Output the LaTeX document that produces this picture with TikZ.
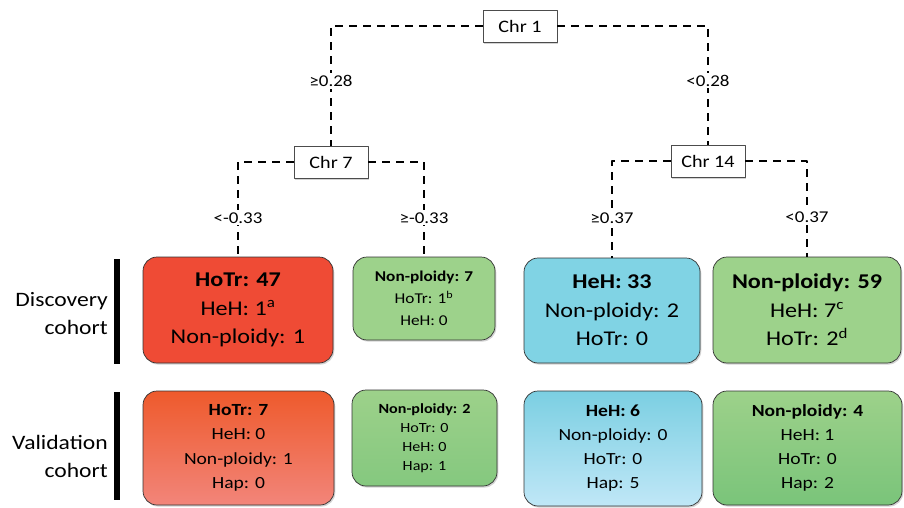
\documentclass[tikz,border=0pt]{standalone}
\usepackage{fontspec}
\setmainfont{Carlito}[FakeStretch=1.15]
\usetikzlibrary{shadows}
\definecolor{hotr}{HTML}{EF4B35}
\definecolor{hotrtop}{HTML}{EE5A2C}
\definecolor{hotrbot}{HTML}{F2857A}
\definecolor{nonp}{HTML}{9DD28B}
\definecolor{nonptop}{HTML}{9DD18A}
\definecolor{nonpbot}{HTML}{7AC47A}
\definecolor{heh}{HTML}{80D3E4}
\definecolor{hehtop}{HTML}{7BCFE2}
\definecolor{hehbot}{HTML}{C0E7F7}
\tikzset{
  every picture/.style={line join=round},
  shade/.style={drop shadow={opacity=0.35, shadow xshift=1.3pt, shadow yshift=-1.6pt}},
  chrbox/.style={draw=black!70, fill=white, line width=0.6pt, minimum width=74pt, minimum height=32pt, inner sep=0pt, font=\fontsize{17.5}{20}\selectfont, shade},
  leaf/.style={draw=black!80, line width=0.7pt, rounded corners=14pt, align=center, inner sep=0pt, shade},
  branch/.style={line width=2pt, dash pattern=on 8pt off 6pt},
  thr/.style={fill=white, inner sep=2pt, font=\fontsize{16.5}{19}\selectfont},
  bar/.style={line width=6pt},
  cohort/.style={anchor=east, align=right, inner sep=0pt, font=\fontsize{20.5}{28}\selectfont},
}
\begin{document}
\begin{tikzpicture}[x=1pt,y=-1pt]
\useasboundingbox (0,0) rectangle (904,508);
\node[chrbox] (chr1) at (520,26) {Chr 1};
\node[chrbox] (chr7) at (331,162) {Chr 7};
\node[chrbox] (chr14) at (708,161) {Chr 14};
% discovery cohort
\node[leaf, fill=hotr, minimum width=190pt, minimum height=106pt, font=\fontsize{21}{28.5}\selectfont] (d1) at (238,310) {\textbf{HoTr: 47}\\HeH: 1\textsuperscript{a}\\Non-ploidy: 1};
\node[leaf, fill=nonp, minimum width=142pt, minimum height=83pt, font=\fontsize{15}{22}\selectfont] (d2) at (424,298.5) {\textbf{Non-ploidy: 7}\\HoTr: 1\textsuperscript{b}\\HeH: 0};
\node[leaf, fill=heh, minimum width=176pt, minimum height=105pt, font=\fontsize{21}{28.5}\selectfont] (d3) at (612,310.5) {\textbf{HeH: 33}\\Non-ploidy: 2\\HoTr: 0};
\node[leaf, fill=nonp, minimum width=188pt, minimum height=106pt, font=\fontsize{21}{28.5}\selectfont] (d4) at (807,310) {\textbf{Non-ploidy: 59}\\HeH: 7\textsuperscript{c}\\HoTr: 2\textsuperscript{d}};
% validation cohort
\node[leaf, top color=hotrtop, bottom color=hotrbot, minimum width=191pt, minimum height=114pt, font=\fontsize{17}{24.5}\selectfont] (v1) at (238.5,448) {\textbf{HoTr: 7}\\HeH: 0\\Non-ploidy: 1\\Hap: 0};
\node[leaf, top color=nonptop, bottom color=nonpbot!70!nonptop, minimum width=145pt, minimum height=96pt, font=\fontsize{14}{19}\selectfont] (v2) at (424.5,438) {\textbf{Non-ploidy: 2}\\HoTr: 0\\HeH: 0\\Hap: 1};
\node[leaf, top color=hehtop, bottom color=hehbot, minimum width=178pt, minimum height=115pt, font=\fontsize{17}{24}\selectfont] (v3) at (613,448.5) {\textbf{HeH: 6}\\Non-ploidy: 0\\HoTr: 0\\Hap: 5};
\node[leaf, top color=nonptop, bottom color=nonpbot, minimum width=189pt, minimum height=114pt, font=\fontsize{17}{24}\selectfont] (v4) at (807.5,448) {\textbf{Non-ploidy: 4}\\HeH: 1\\HoTr: 0\\Hap: 2};
\draw[branch] (chr1.west) -| (chr7.north) node[thr, pos=0.73] {≥0.28};
\draw[branch] (chr1.east) -| (chr14.north) node[thr, pos=0.73] {<0.28};
\draw[branch] (chr7.west) -| (d1.north) node[thr, pos=0.795] {<-0.33};
\draw[branch] (chr7.east) -| (d2.north) node[thr, pos=0.795] {≥-0.33};
\draw[branch] (chr14.west) -| (d3.north) node[thr, pos=0.794] {≥0.37};
\draw[branch] (chr14.east) -| (d4.north) node[thr, pos=0.794] {<0.37};
\node[cohort] (disc) at (108,314) {Discovery\\cohort};
\node[cohort] (vali) at (108,456) {Validation\\cohort};
\draw[bar] (117,259) -- (117,364);
\draw[bar] (117,392) -- (117,500);
\end{tikzpicture}
\end{document}
